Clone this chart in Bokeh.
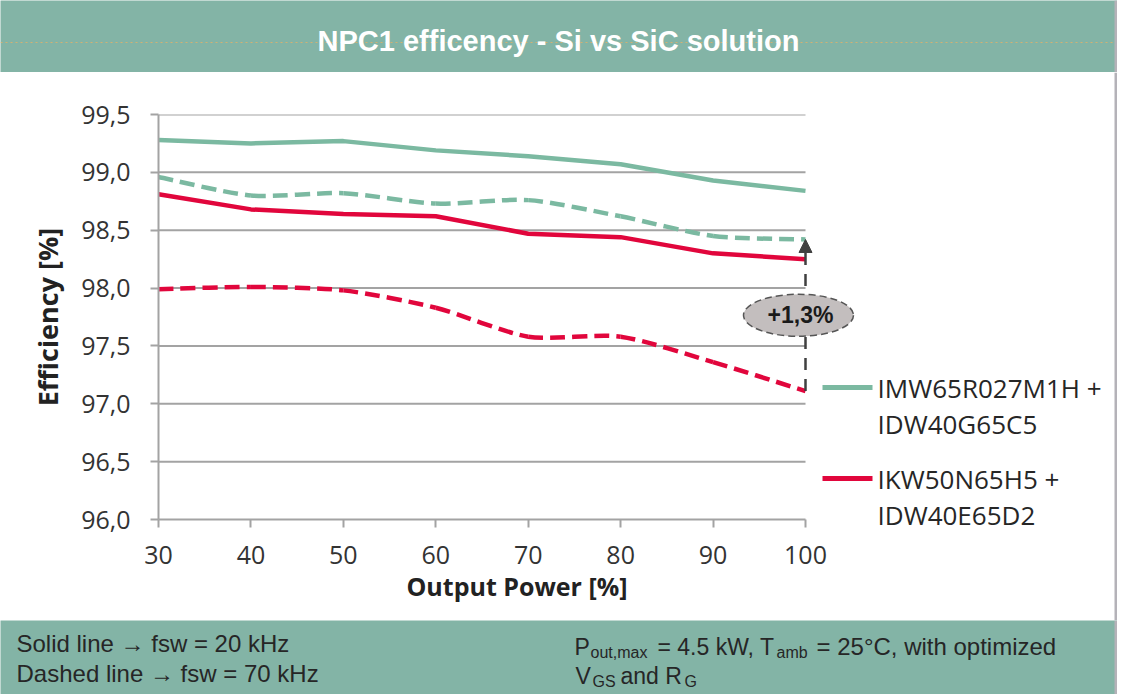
from bokeh.plotting import figure
from bokeh.models import (Range1d, FixedTicker, CustomJSTickFormatter,
                          Arrow, NormalHead, ColumnDataSource)
from bokeh.layouts import column, row
from bokeh.embed import file_html
from bokeh.resources import INLINE
from bokeh.core.properties import value

# ---------------- data ----------------
output_power = [30, 40, 50, 60, 70, 80, 90, 100]
sic_20khz = [99.28, 99.25, 99.27, 99.19, 99.14, 99.07, 98.93, 98.84]   # solid green
sic_70khz = [98.96, 98.80, 98.82, 98.73, 98.76, 98.62, 98.45, 98.42]   # dashed green
si_20khz = [98.81, 98.68, 98.64, 98.62, 98.47, 98.44, 98.30, 98.25]    # solid red
si_70khz = [97.99, 98.01, 97.98, 97.83, 97.58, 97.58, 97.36, 97.11]    # dashed red
x_ticks = [30, 40, 50, 60, 70, 80, 90, 100]
y_ticks = [96.0, 96.5, 97.0, 97.5, 98.0, 98.5, 99.0, 99.5]
sic_label = ["IMW65R027M1H +", "IDW40G65C5"]
si_label = ["IKW50N65H5 +", "IDW40E65D2"]
title_text = "NPC1 efficency - Si vs SiC solution"
x_title = "Output Power [%]"
y_title = "Efficiency [%]"
note_left = ["Solid line \u2192 fsw = 20 kHz", "Dashed line \u2192 fsw = 70 kHz"]

# ---------------- style / layout ----------------
TEAL = "#83b4a6"
GREEN = "#7bb9a1"
RED = "#e1063c"
GRID = "#a3a3a3"
DARK = "#404040"
TXT = "#333333"
ELL_FILL = "#c3bebe"
EDGE = "#b4b2b8"

W = 1117               # total width (page px)
TOP_H, MAIN_H, BOT_H = 72, 548, 74
MAIN_Y0 = TOP_H        # page y of main figure top
FRAME_L, FRAME_T, FRAME_H = 158, 42, 405
P_W = 875              # main figure width (frame extends right of x=100 for the bubble)
SPAN_PX = 647          # pixels between x=30 and x=100
X_PER_PX = (x_ticks[-1] - x_ticks[0]) / SPAN_PX
Y_PER_PX = (y_ticks[-1] - y_ticks[0]) / FRAME_H
x_end = x_ticks[0] + (P_W - FRAME_L) * X_PER_PX
PLOT_TOP_PAGE = MAIN_Y0 + FRAME_T


def px_x(page_x):
    return x_ticks[0] + (page_x - FRAME_L) * X_PER_PX


def px_y(page_y):
    return y_ticks[-1] - (page_y - PLOT_TOP_PAGE) * Y_PER_PX


def smooth(xs, ys, k=8.0):
    n = len(xs)
    d = dict(x0=[], y0=[], x1=[], y1=[], cx0=[], cy0=[], cx1=[], cy1=[])
    for i in range(n - 1):
        a = max(i - 1, 0)
        b = min(i + 2, n - 1)
        d["x0"].append(xs[i]); d["y0"].append(ys[i])
        d["x1"].append(xs[i + 1]); d["y1"].append(ys[i + 1])
        d["cx0"].append(xs[i] + (xs[i + 1] - xs[a]) / k)
        d["cy0"].append(ys[i] + (ys[i + 1] - ys[a]) / k)
        d["cx1"].append(xs[i + 1] - (xs[b] - xs[i]) / k)
        d["cy1"].append(ys[i + 1] - (ys[b] - ys[i]) / k)
    return ColumnDataSource(d)


def blank(width, height, x0, x1, y_top, y_bot, bg):
    f = figure(width=width, height=height, x_range=Range1d(x0, x1),
               y_range=Range1d(y_bot, y_top), x_axis_type=None, y_axis_type=None,
               output_backend="svg", toolbar_location=None, min_border=0,
               outline_line_color=None, background_fill_color=bg, border_fill_color=bg)
    return f


# ---------------- top banner (page coordinates) ----------------
top = blank(W, TOP_H, 0, W, 0, TOP_H, TEAL)
top.segment(x0=[0], x1=[1114], y0=[42], y1=[42], line_color="#e6b066",
            line_dash="2 3", line_width=1, line_alpha=0.8)
top.segment(x0=[1115.5], x1=[1115.5], y0=[0], y1=[TOP_H], line_color=EDGE, line_width=3)
top.text(x=[558], y=[40], text=[title_text], text_align="center", text_baseline="middle",
         text_font=value("Liberation Sans"), text_font_style="bold",
         text_font_size="29px", text_color="white")

# ---------------- main chart ----------------
p = figure(width=P_W, height=MAIN_H, x_range=Range1d(x_ticks[0], x_end),
           y_range=Range1d(y_ticks[0], y_ticks[-1]), output_backend="svg",
           toolbar_location=None, min_border_left=FRAME_L, min_border_right=0,
           min_border_top=FRAME_T, min_border_bottom=MAIN_H - FRAME_T - FRAME_H,
           outline_line_color=None, background_fill_color="white",
           border_fill_color="white")
p.xgrid.visible = False
p.ygrid.visible = False

p.xaxis.ticker = FixedTicker(ticks=x_ticks)
p.xaxis.bounds = (x_ticks[0], x_ticks[-1])
p.yaxis.ticker = FixedTicker(ticks=y_ticks)
p.yaxis.formatter = CustomJSTickFormatter(code="return tick.toFixed(1).replace('.', ',');")
p.xaxis.axis_label = x_title
p.yaxis.axis_label = y_title
for ax in (p.xaxis[0], p.yaxis[0]):
    ax.axis_line_color = GRID
    ax.axis_line_width = 2
    ax.major_tick_line_color = GRID
    ax.major_tick_line_width = 2
    ax.major_tick_out = 8
    ax.major_tick_in = 0
    ax.minor_tick_out = 0
    ax.minor_tick_in = 0
    ax.major_label_text_font = "Open Sans"
    ax.major_label_text_font_size = "25px"
    ax.major_label_text_color = TXT
    ax.axis_label_text_font = "Open Sans"
    ax.axis_label_text_font_style = "bold"
    ax.axis_label_text_color = "#222222"
p.xaxis.axis_label_text_font_size = "25px"
p.yaxis.axis_label_text_font_size = "27px"
p.yaxis.major_label_standoff = 20
p.xaxis.major_label_standoff = 18
p.yaxis.axis_label_standoff = 12
p.xaxis.axis_label_standoff = 2

# horizontal grid lines (only over the 30..100 span)
p.segment(x0=x_ticks[0], x1=x_ticks[-1], y0=y_ticks[1:], y1=y_ticks[1:],
          line_color=GRID, line_width=2)

# series
p.line(output_power, sic_20khz, line_color=GREEN, line_width=4.5)
p.line(output_power, si_20khz, line_color=RED, line_width=4.5)
for ys, col in ((sic_70khz, GREEN), (si_70khz, RED)):
    p.bezier(x0="x0", y0="y0", x1="x1", y1="y1", cx0="cx0", cy0="cy0", cx1="cx1", cy1="cy1",
             source=smooth(output_power, ys), line_color=col, line_width=4.5,
             line_dash="15 7")

# improvement arrow + bubble
p.add_layout(Arrow(end=NormalHead(size=13, fill_color=DARK, line_color=DARK),
                   x_start=output_power[-1], y_start=si_70khz[-1],
                   x_end=output_power[-1], y_end=sic_70khz[-1],
                   line_color=DARK, line_width=2.5, line_dash="12 9"))
gain = sic_70khz[-1] - si_70khz[-1]
gain_text = "+" + f"{gain:.1f}".replace(".", ",") + "%"
cy = (sic_70khz[-1] + si_70khz[-1]) / 2
cx = output_power[-1] - 7 * X_PER_PX
p.ellipse(x=[cx], y=[cy], width=110, height=42, width_units="screen", height_units="screen",
          fill_color=ELL_FILL, line_color="#555555", line_width=1.5, line_dash="7 4",
          level="overlay")
p.text(x=[cx + 2 * X_PER_PX], y=[cy], text=[gain_text], text_align="center",
       text_baseline="middle", text_font=value("Liberation Sans"), text_font_style="bold",
       text_font_size="23px", text_color="#1a1a1a", level="overlay")

# legend line samples (inside main frame)
legend_rows = [(GREEN, sic_label, 387), (RED, si_label, 478)]
p.segment(x0=[px_x(822)] * 2, x1=[px_x(872)] * 2,
          y0=[px_y(r[2]) for r in legend_rows], y1=[px_y(r[2]) for r in legend_rows],
          line_color=[r[0] for r in legend_rows], line_width=5)

# legend texts: separate panel to the right (page coordinates)
leg = blank(W - P_W, MAIN_H, P_W, W, MAIN_Y0, MAIN_Y0 + MAIN_H, "white")
leg.segment(x0=[1115.5], x1=[1115.5], y0=[MAIN_Y0], y1=[MAIN_Y0 + MAIN_H],
            line_color=EDGE, line_width=3)
lx, ly, lt = [], [], []
for colr, lines, yy in legend_rows:
    for k, t in enumerate(lines):
        lx.append(877)
        ly.append(yy + 36 * k)
        lt.append(t)
leg.text(x=lx, y=ly, text=lt, text_align="left", text_baseline="middle",
         text_font=value("Open Sans"), text_font_size="26px", text_color="#262626")

# ---------------- bottom banner (page coordinates) ----------------
Y0B = TOP_H + MAIN_H
bot = blank(W, BOT_H, 0, W, Y0B, Y0B + BOT_H, TEAL)
bot.segment(x0=[1115.5], x1=[1115.5], y0=[Y0B], y1=[Y0B + BOT_H], line_color=EDGE,
            line_width=3)
bot.text(x=[16, 16], y=[643, 673], text=note_left, text_align="left",
         text_baseline="middle", text_font=value("Liberation Sans"),
         text_font_size="24px", text_color="#262626")
pieces = [  # (text, page x, middle y, size)
    ("P", 574, 646, "23px"), ("out,max", 590, 652, "16px"),
    ("= 4.5 kW, T", 657, 646, "23px"), ("amb", 776, 652, "16px"),
    ("= 25\u00b0C, with optimized", 816, 646, "24px"),
    ("V", 575, 675, "23px"), ("GS", 592, 681, "16px"),
    ("and R", 620, 675, "23px"), ("G", 684, 681, "16px"),
]
for t, xx, yy, sz in pieces:
    bot.text(x=[xx], y=[yy], text=[t], text_align="left", text_baseline="middle",
             text_font=value("Liberation Sans"), text_font_size=sz, text_color="#262626")

for f in (top, p, leg, bot):
    try:
        f.frame_align = False
    except Exception:
        pass

layout = column(top, row(p, leg, spacing=0), bot, spacing=0)
open("out.html", "w").write(file_html(layout, INLINE))
